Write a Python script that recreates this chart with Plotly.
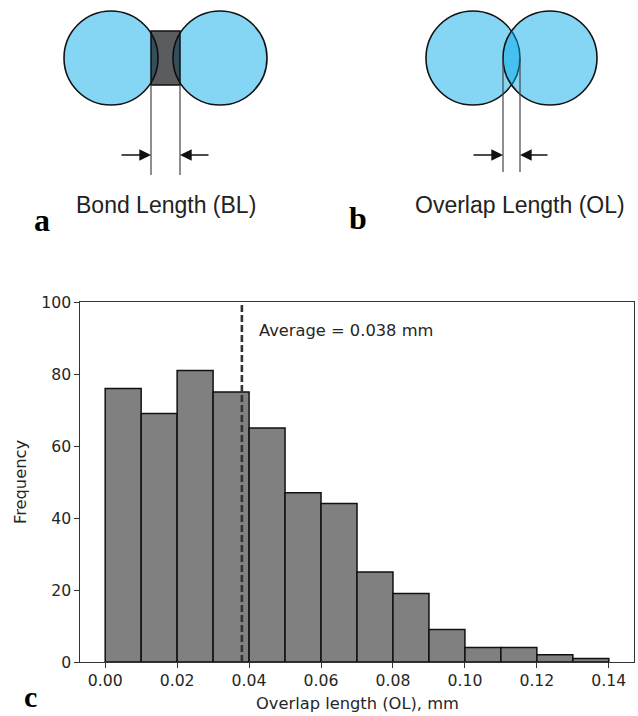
import plotly.graph_objects as go

# ---- histogram data ----
bin_edges = [0.00, 0.01, 0.02, 0.03, 0.04, 0.05, 0.06, 0.07,
             0.08, 0.09, 0.10, 0.11, 0.12, 0.13, 0.14]
counts = [76, 69, 81, 75, 65, 47, 44, 25, 19, 9, 4, 4, 2, 1]
average_ol = 0.038
x_ticks = [0.00, 0.02, 0.04, 0.06, 0.08, 0.10, 0.12, 0.14]
y_ticks = [0, 20, 40, 60, 80, 100]

W, H = 638, 716

# ---- schematic geometry (pixel units on a full-page overlay axis) ----
R = 47
bl_circles = [(111, 58), (220, 58)]
bl_rect = (151, 31, 180, 85)
bl_lines_x = [151, 180]
bl_lines_y = (85, 175)
bl_arrow_y = 155
ol_circles = [(473, 58), (550, 58)]
ol_lines_x = [503, 520]
ol_lines_y = (58, 172)
ol_arrow_y = 155

ATOM_FILL = "rgba(0,170,234,0.48)"
CHART_FONT = "DejaVu Sans"
LABEL_COLOR = "#262626"

fig = go.Figure()

fig.add_trace(go.Bar(
    x=bin_edges[:-1], y=counts,
    width=[bin_edges[i + 1] - bin_edges[i] for i in range(len(counts))],
    offset=0,
    marker=dict(color="#808080", line=dict(color="#111111", width=1.5)),
    xaxis="x", yaxis="y", hoverinfo="x+y", showlegend=False,
))

axis_common = dict(
    showline=True, mirror=True, linecolor="#333333", linewidth=1.2,
    ticks="outside", ticklen=4.5, tickwidth=1.1, tickcolor="#333333",
    showgrid=False, zeroline=False, automargin=False,
    tickfont=dict(family=CHART_FONT, size=15.7, color=LABEL_COLOR),
)

fig.update_layout(
    width=W, height=H,
    autosize=False,
    margin=dict(l=0, r=0, t=0, b=0, pad=0, autoexpand=False),
    paper_bgcolor="white",
    plot_bgcolor="rgba(0,0,0,0)",
    showlegend=False,
    xaxis=dict(domain=[80 / W, 634 / W], range=[-0.007, 0.147],
               tickvals=x_ticks, tickformat=".2f", anchor="y", **axis_common),
    yaxis=dict(domain=[1 - 662 / H, 1 - 302 / H], range=[0, 100],
               tickvals=y_ticks, anchor="x", **axis_common),
    xaxis2=dict(domain=[0, 1], range=[0, W], visible=False, anchor="y2",
                fixedrange=True, automargin=False),
    yaxis2=dict(domain=[0, 1], range=[H, 0], visible=False, anchor="x2",
                fixedrange=True, automargin=False),
)

shapes = []
# average marker
shapes.append(dict(type="line", xref="x", yref="y", x0=average_ol, x1=average_ol,
                   y0=0, y1=100, line=dict(color="#333333", width=2.6, dash="7px,3px"),
                   layer="above"))

ov = dict(xref="x2", yref="y2", layer="above")

def atom(cx, cy):
    return dict(type="circle", x0=cx - R, x1=cx + R, y0=cy - R, y1=cy + R,
                fillcolor=ATOM_FILL, line=dict(color="#111111", width=1.6), **ov)

# bond-length schematic
for cx, cy in bl_circles:
    shapes.append(atom(cx, cy))
shapes.append(dict(type="rect", x0=bl_rect[0], y0=bl_rect[1], x1=bl_rect[2], y1=bl_rect[3],
                   fillcolor="rgba(10,12,15,0.67)", line=dict(color="#111111", width=1.5), **ov))
for lx in bl_lines_x:
    shapes.append(dict(type="line", x0=lx, x1=lx, y0=bl_lines_y[0], y1=bl_lines_y[1],
                       line=dict(color="#444444", width=1.2), **ov))

# overlap-length schematic
for cx, cy in ol_circles:
    shapes.append(atom(cx, cy))
for lx in ol_lines_x:
    shapes.append(dict(type="line", x0=lx, x1=lx, y0=ol_lines_y[0], y1=ol_lines_y[1],
                       line=dict(color="#444444", width=1.2), **ov))

fig.update_layout(shapes=shapes)

annotations = []

def arrow(tip_x, tail_x, y):
    return dict(x=tip_x, y=y, ax=tail_x, ay=y, xref="x2", yref="y2",
                axref="x2", ayref="y2", text="", showarrow=True,
                arrowhead=2, arrowsize=1.8, arrowwidth=1.3, arrowcolor="#111111",
                standoff=0, startstandoff=0)

annotations += [
    arrow(bl_lines_x[0], 120, bl_arrow_y),
    arrow(bl_lines_x[1], 210, bl_arrow_y),
    arrow(ol_lines_x[0], 472, ol_arrow_y),
    arrow(ol_lines_x[1], 549, ol_arrow_y),
]

def text(x, y, s, size, family, color="#222222", anchor="center", angle=0, bold=False):
    return dict(x=x, y=y, xref="x2", yref="y2", text=f"<b>{s}</b>" if bold else s,
                showarrow=False, xanchor=anchor, yanchor="middle", textangle=angle,
                font=dict(family=family, size=size, color=color))

annotations += [
    text(166, 205, "Bond Length (BL)", 23, "Liberation Sans"),
    text(519.5, 205, "Overlap Length (OL)", 23, "Liberation Sans"),
    text(42, 220, "a", 32, "Liberation Serif", color="#000000", bold=True),
    text(358, 218, "b", 32, "Liberation Serif", color="#000000", bold=True),
    text(30, 696, "c", 30, "Liberation Serif", color="#000000", bold=True),
    text(357, 703, "Overlap length (OL), mm", 16.3, CHART_FONT, color=LABEL_COLOR),
    text(20, 482, "Frequency", 16.3, CHART_FONT, color=LABEL_COLOR, angle=-90),
]

annotations.append(dict(
    x=0.0421, y=92.2, xref="x", yref="y", text=f"Average = {average_ol} mm",
    showarrow=False, xanchor="left", yanchor="middle",
    font=dict(family=CHART_FONT, size=16.3, color=LABEL_COLOR),
))

fig.update_layout(annotations=annotations)

fig.write_html("out.html")
